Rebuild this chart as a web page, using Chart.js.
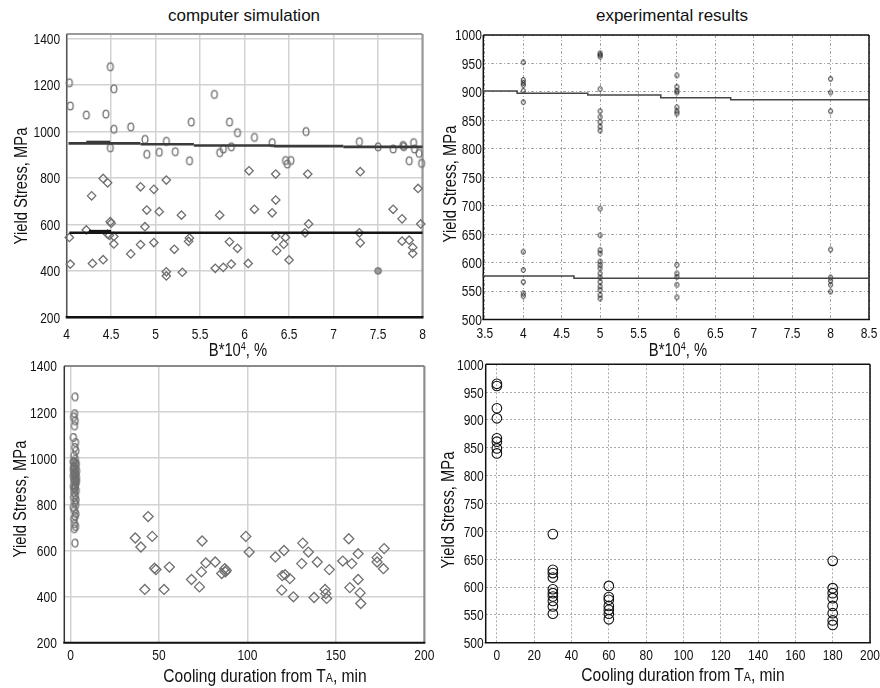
<!DOCTYPE html>
<html><head><meta charset="utf-8">
<script src="https://cdn.jsdelivr.net/npm/chart.js@4.4.1/dist/chart.umd.min.js"></script>
<style>
html,body{margin:0;padding:0;background:#fff;width:880px;height:688px;overflow:hidden;}
canvas{position:absolute;}
.t{position:absolute;white-space:nowrap;font-family:'Liberation Sans',Arial,sans-serif;font-size:18px;color:#111;transform:translate(-50%,-50%) scaleX(0.82);line-height:1;}
.t19{font-size:19px;}
.r{transform:translate(-50%,-50%) rotate(-90deg) scaleX(0.82);}
.h{font-size:17px;transform:translate(-50%,-50%);}
.sup{font-size:11px;position:relative;top:-6px;}
.sub{font-size:13px;}
</style></head><body>
<canvas id="c1" width="410" height="320" style="left:30px;top:25px"></canvas>
<canvas id="c2" width="440" height="320" style="left:440px;top:25px"></canvas>
<canvas id="c3" width="415" height="333" style="left:25px;top:355px"></canvas>
<canvas id="c4" width="440" height="333" style="left:440px;top:355px"></canvas>

<div class="t h" style="left:244px;top:15px">computer simulation</div>
<div class="t h" style="left:672px;top:15px">experimental results</div>
<div class="t r" style="left:21px;top:186px">Yield Stress, MPa</div>
<div class="t r" style="left:450px;top:184px">Yield Stress, MPa</div>
<div class="t r" style="left:20px;top:499px">Yield Stress, MPa</div>
<div class="t r" style="left:448px;top:510px">Yield Stress, MPa</div>
<div class="t" style="left:238px;top:350px">B*10<span class="sup">4</span>, %</div>
<div class="t" style="left:678px;top:350px">B*10<span class="sup">4</span>, %</div>
<div class="t t19" style="left:265px;top:675px">Cooling duration from T<span class="sub">A</span>, min</div>
<div class="t t19" style="left:683px;top:674px">Cooling duration from T<span class="sub">A</span>, min</div>

<script>
// ---------------- DATA ----------------
// Top-left: computer simulation, yield stress vs B*10^4
const simXTicks = [4, 4.5, 5, 5.5, 6, 6.5, 7, 7.5, 8];
const simYTicks = [200, 400, 600, 800, 1000, 1200, 1400];
const simHighPts = [[4.03,1210],[4.04,1110],[4.22,1071],[4.44,1075],[4.49,1279],[4.53,1184],[4.53,1010],[4.49,930],
  [4.72,1020],[4.88,966],[4.90,902],[5.04,911],[5.12,958],[5.22,913],[5.38,874],[5.40,1041],[5.66,1160],[5.83,1041],
  [5.92,995],[5.72,909],[5.76,925],[5.85,934],[6.11,975],[6.31,952],[6.69,1000],[6.46,875],[6.52,875],[6.48,860],
  [7.29,956],[7.50,934],[7.67,925],[7.78,940],[7.79,935],[7.90,952],[7.91,925],[7.96,906],[7.85,874],[7.99,863]];
const simLowPts = [[4.41,798],[4.46,779],[4.28,723],[4.83,762],[4.98,751],[5.12,791],[6.05,831],[6.35,817],[6.71,817],
  [7.30,827],[7.95,755],[4.90,662],[5.04,655],[5.29,640],[5.72,640],[6.11,665],[6.31,650],[6.35,705],[7.67,665],
  [7.77,624],[7.98,602],[6.72,602],[6.68,564],[4.49,612],[4.50,605],[4.22,576],[4.88,590],[4.03,544],[4.46,558],
  [4.48,553],[4.53,548],[4.53,516],[4.83,513],[4.98,522],[5.38,542],[5.37,527],[5.21,493],[4.72,473],[4.04,429],
  [4.29,432],[4.41,448],[5.12,396],[5.12,378],[5.30,394],[5.67,411],[5.76,415],[5.85,429],[6.04,432],[5.83,525],
  [5.92,497],[6.35,550],[6.36,487],[6.44,515],[6.46,544],[6.50,447],[7.29,564],[7.30,521],[7.77,528],[7.85,532],
  [7.89,501],[7.89,475]];
const simFilledPts = [[7.50,400]];
// trend segments: [from, to, stress]
const simUpperTrend = [[4.02,4.83,949],[4.22,4.49,955],[4.83,5.43,945],[5.43,6.33,940],[6.33,7.11,937],[7.11,8.0,934]];
const simLowerTrend = [[4.03,8.0,564],[4.25,4.50,571]];

// Top-right: experimental results vs B*10^4
const expXTicks = [3.5, 4, 4.5, 5, 5.5, 6, 6.5, 7, 7.5, 8, 8.5];
const expYTicks = [500, 550, 600, 650, 700, 750, 800, 850, 900, 950, 1000];
const expB = [4, 5, 6, 8];
const expAtB4 = [952, 921, 916, 912, 902, 882, 619, 587, 566, 546, 541];
const expAtB5 = [968, 965, 962, 905, 866, 856, 847, 839, 832, 695, 648, 622, 616, 602, 596, 590, 581, 574, 566, 558, 552, 543, 537];
const expAtB6 = [929, 909, 902, 899, 873, 866, 862, 596, 581, 575, 561, 539];
const expAtB8 = [923, 899, 866, 623, 574, 568, 561, 549];
const expUpperStepX = [3.48, 3.92, 4.84, 5.79, 6.70, 7.63, 8.5];
const expUpperStepY = [905.6, 901.6, 897.5, 894.6, 889.8, 886.3, 886.3];
const expLowerStepX = [3.48, 4.66, 7.33, 8.5];
const expLowerStepY = [579.4, 576.4, 572.4, 572.4];

// Bottom-left: computer simulation vs cooling duration
const coolXTicks = [0, 50, 100, 150, 200];
const coolYTicks = [200, 400, 600, 800, 1000, 1200, 1400];
const coolEarlyPts = [[2.5,1266],[2.3,1193],[1.8,1179],[2.6,1162],[2.2,1140],[1.6,1090],[2.8,1068],[2.4,1047],[3.0,1032],
  [1.9,1011],[2.7,996],[1.5,985],[2.0,985],[3.2,975],[2.9,975],[2.1,965],[1.8,960],[2.9,955],[1.7,950],[3.4,945],[2.3,940],
  [2.0,935],[3.1,930],[1.6,925],[2.6,920],[3.3,915],[1.9,910],[2.8,905],[2.2,900],[3.3,900],[3.0,890],[1.7,880],[2.6,880],
  [2.5,870],[1.9,870],[3.2,860],[2.0,852],[2.7,840],[1.8,831],[3.1,820],[2.4,809],[2.9,798],[1.6,787],[2.2,775],[3.0,759],
  [2.6,748],[1.9,737],[2.3,716],[2.8,704],[2.1,694],[2.5,632]];
const coolLaterPts = [[36.6,654],[39.8,615],[43.9,747],[46.2,661],[42.0,431],[47.5,523],[48.3,517],[52.9,431],[55.9,528],
  [68.4,474],[72.9,442],[74.0,507],[74.4,641],[76.5,546],[81.8,550],[85.5,500],[87.2,521],[87.5,507],[88.1,513],
  [99.1,661],[101,593],[115.8,572],[119.4,428],[119.7,491],[120.7,600],[121.3,495],[124,478],[126,399],[131.3,632],
  [130.7,543],[134.5,593],[139.5,550],[137.7,396],[143.9,431],[144.3,413],[144.8,392],[146.3,517],[153.9,554],
  [157.3,651],[157.9,439],[159,543],[162.6,586],[162.6,474],[163.7,416],[164.1,370],[173.3,569],[173.3,550],
  [177.3,608],[176.9,521]];

// Bottom-right: experimental results vs cooling duration
const expCoolXTicks = [0, 20, 40, 60, 80, 100, 120, 140, 160, 180, 200];
const expCoolYTicks = [500, 550, 600, 650, 700, 750, 800, 850, 900, 950, 1000];
const expCoolTimes = [0, 30, 60, 180];
const expCoolAt0 = [965, 961, 921, 903, 867, 861, 849, 840];
const expCoolAt30 = [695, 631, 625, 617, 596, 589, 583, 575, 565, 552];
const expCoolAt60 = [602, 582, 577, 566, 559, 552, 542];
const expCoolAt180 = [647, 598, 589, 580, 566, 553, 540, 532];

// ---------------- HELPERS ----------------
const LABEL_FONT = "15px 'Liberation Sans', Arial, sans-serif";
const SQUEEZE = 0.8;
function ellipseStyle(rx, ry, color, lw, fill) {
  const c = document.createElement('canvas');
  const w = Math.ceil(2 * rx + lw + 2), h = Math.ceil(2 * ry + lw + 2);
  c.width = w; c.height = h;
  const g = c.getContext('2d');
  g.beginPath(); g.ellipse(w / 2, h / 2, rx, ry, 0, 0, Math.PI * 2);
  if (fill) { g.fillStyle = fill; g.fill(); }
  g.lineWidth = lw; g.strokeStyle = color; g.stroke();
  return c;
}
const toXY = arr => arr.map(p => ({ x: p[0], y: p[1] }));
const column = (x, ys) => ys.map(y => ({ x: x, y: y }));
const stepPts = (xs, ys) => xs.map((x, i) => ({ x: x, y: ys[i] }));

const framePlugin = {
  id: 'frame',
  beforeDatasetsDraw(chart, args, o) {
    const { ctx } = chart; const { left, top, right, bottom } = chart.chartArea;
    const side = (s, x1, y1, x2, y2) => {
      if (!s) return; ctx.save(); ctx.strokeStyle = s[0]; ctx.lineWidth = s[1];
      ctx.beginPath(); ctx.moveTo(x1, y1); ctx.lineTo(x2, y2); ctx.stroke(); ctx.restore();
    };
    side(o.top, left, top, right, top);
    side(o.right, right, top, right, bottom);
    side(o.left, left, top, left, bottom);
    side(o.bottom, left - 1, bottom, right + 1, bottom);
  }
};

// tick labels of the library's own scales, drawn narrow (condensed look of the original)
const tickLabelPlugin = {
  id: 'ticklabels',
  afterDraw(chart, args, o) {
    const ctx = chart.ctx; const area = chart.chartArea;
    const put = (s, x, y, align) => {
      ctx.save(); ctx.translate(x, y); ctx.scale(SQUEEZE, 1);
      ctx.textAlign = align; ctx.fillText(s, 0, 0); ctx.restore();
    };
    ctx.save(); ctx.font = LABEL_FONT; ctx.fillStyle = '#111'; ctx.textBaseline = 'alphabetic';
    const xs = chart.scales.x, ys = chart.scales.y;
    xs.ticks.forEach(t => put(String(t.value), xs.getPixelForValue(t.value), area.bottom + o.xOff + 5.4, 'center'));
    ys.ticks.forEach(t => put(String(t.value), area.left - o.yPad, ys.getPixelForValue(t.value) + 5.4, 'right'));
    ctx.restore();
  }
};

function makeChart(id, cfg) {
  return new Chart(document.getElementById(id), {
    type: 'scatter',
    data: { datasets: cfg.datasets },
    options: {
      responsive: false, animation: false, events: [],
      layout: { padding: { top: cfg.pad[0], right: cfg.pad[1], bottom: 0, left: 0 } },
      plugins: { legend: { display: false }, tooltip: { enabled: false }, frame: cfg.frame,
                 ticklabels: { xOff: cfg.x.off, yPad: cfg.y.pad } },
      scales: {
        x: {
          type: 'linear', min: cfg.x.min, max: cfg.x.max,
          afterBuildTicks: s => { s.ticks = cfg.x.ticks.map(v => ({ value: v })); },
          afterFit: s => { s.height = cfg.xh; },
          ticks: { display: false },
          grid: Object.assign({ drawTicks: false }, cfg.grid),
          border: Object.assign({ display: false }, cfg.border)
        },
        y: {
          type: 'linear', min: cfg.y.min, max: cfg.y.max,
          afterBuildTicks: s => { s.ticks = cfg.y.ticks.map(v => ({ value: v })); },
          afterFit: s => { s.width = cfg.yw; },
          ticks: { display: false },
          grid: Object.assign({ drawTicks: false }, cfg.grid),
          border: Object.assign({ display: false }, cfg.border)
        }
      }
    },
    plugins: [framePlugin, tickLabelPlugin]
  });
}

function segLines(segs, color, width) {
  return segs.map(s => ({
    data: [{ x: s[0], y: s[2] }, { x: s[1], y: s[2] }],
    showLine: true, pointRadius: 0, borderColor: color, borderWidth: width, clip: false
  }));
}

const GRAY = '#6f6f6f';
const simOval = ellipseStyle(2.9, 3.9, GRAY, 1.3);
const simFilled = ellipseStyle(3.2, 3.2, '#777', 1.2, '#9a9a9a');
const coolOval = ellipseStyle(3.0, 3.8, GRAY, 1.3);
const expOval = ellipseStyle(1.9, 2.4, '#111', 0.9);

// ---------------- CHART 1 ----------------
makeChart('c1', {
  pad: [9, 17.5], yw: 36.7, xh: 27.7,
  x: { min: 4, max: 8, ticks: simXTicks, off: 16 },
  y: { min: 200, max: 1420, ticks: simYTicks, pad: 6.5 },
  grid: { color: '#d2d2d2', lineWidth: 1.5 },
  border: {},
  frame: { top: ['#9a9a9a', 2], right: ['#9a9a9a', 2.2], left: ['#555', 1.5], bottom: ['#111', 2.5] },
  datasets: [
    ...segLines(simLowerTrend, '#151515', 2.6),
    ...segLines(simUpperTrend, '#3a3a3a', 2.6),
    { data: toXY(simFilledPts), pointStyle: simFilled, clip: false },
    { data: toXY(simHighPts), pointStyle: simOval, clip: false },
    { data: toXY(simLowPts), pointStyle: 'rectRot', pointRadius: 4.2, borderColor: GRAY, borderWidth: 1.3, backgroundColor: 'rgba(0,0,0,0)', clip: false }
  ]
});

// ---------------- CHART 2 ----------------
makeChart('c2', {
  pad: [10, 11], yw: 43.3, xh: 25.5,
  x: { min: 3.48, max: 8.5, ticks: expXTicks, off: 13.2 },
  y: { min: 500, max: 1000, ticks: expYTicks, pad: 1.5 },
  grid: { color: '#a6a6a6', lineWidth: 1, borderDash: [3, 2, 1, 2] },
  border: { dash: [3, 2, 1, 2] },
  frame: { top: ['#111', 1.5], right: ['#111', 1.5], left: ['#111', 1.5], bottom: ['#111', 1.5] },
  datasets: [
    { data: stepPts(expUpperStepX, expUpperStepY), showLine: true, stepped: 'after', pointRadius: 0, borderColor: '#444', borderWidth: 1.5, clip: false },
    { data: stepPts(expLowerStepX, expLowerStepY), showLine: true, stepped: 'after', pointRadius: 0, borderColor: '#444', borderWidth: 1.5, clip: false },
    { data: [...column(expB[0], expAtB4), ...column(expB[1], expAtB5), ...column(expB[2], expAtB6), ...column(expB[3], expAtB8)],
      pointStyle: expOval, clip: false }
  ]
});

// ---------------- CHART 3 ----------------
makeChart('c3', {
  pad: [11, 15.7], yw: 39.3, xh: 45.3,
  x: { min: -3.5, max: 200, ticks: coolXTicks, off: 12.3 },
  y: { min: 200, max: 1400, ticks: coolYTicks, pad: 7.5 },
  grid: { color: '#d2d2d2', lineWidth: 1.5 },
  border: {},
  frame: { top: ['#8a8a8a', 2], right: ['#8a8a8a', 2], left: ['#333', 1.5], bottom: ['#111', 2] },
  datasets: [
    { data: toXY(coolEarlyPts), pointStyle: coolOval, clip: false },
    { data: toXY(coolLaterPts), pointStyle: 'rectRot', pointRadius: 5, borderColor: GRAY, borderWidth: 1.3, backgroundColor: 'rgba(0,0,0,0)', clip: false }
  ]
});

// ---------------- CHART 4 ----------------
makeChart('c4', {
  pad: [9.3, 10], yw: 45.7, xh: 45.3,
  x: { min: -6, max: 200, ticks: expCoolXTicks, off: 12.3 },
  y: { min: 500, max: 1000, ticks: expCoolYTicks, pad: 2 },
  grid: { color: '#ababab', lineWidth: 1, borderDash: [2, 2] },
  border: { dash: [2, 2] },
  frame: { top: ['#111', 1.5], right: ['#111', 1.5], left: ['#111', 1.5], bottom: ['#111', 1.5] },
  datasets: [
    { data: [...column(expCoolTimes[0], expCoolAt0), ...column(expCoolTimes[1], expCoolAt30),
             ...column(expCoolTimes[2], expCoolAt60), ...column(expCoolTimes[3], expCoolAt180)],
      pointStyle: 'circle', pointRadius: 4.8, borderColor: '#111', borderWidth: 1.1, backgroundColor: 'rgba(0,0,0,0)', clip: false }
  ]
});
</script>
</body></html>
